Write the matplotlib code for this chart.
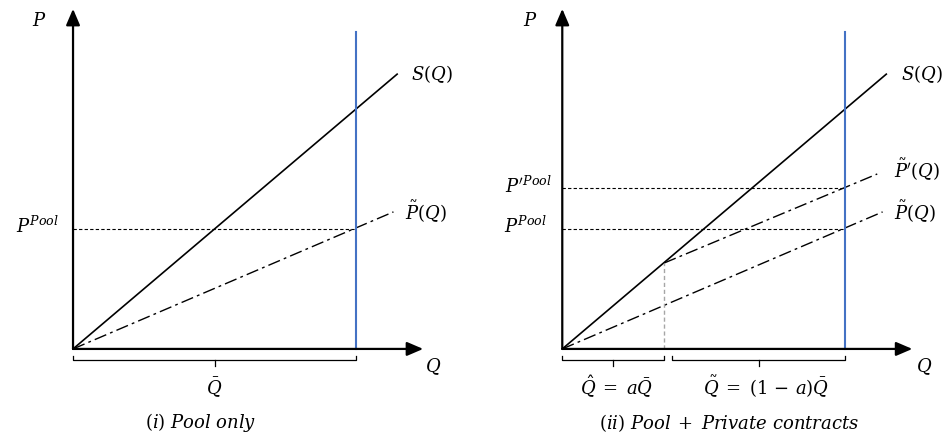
import matplotlib
matplotlib.use("Agg")
import matplotlib.pyplot as plt

plt.rcParams['mathtext.fontset'] = 'dejavuserif'

# quantities (Q-bar = 1, S(Q) = Q)
q_bar = 1.0
q_hat = 0.36
p_pool = 0.5
p_pool2 = 0.67

s_q = [0, 1.145]
s_p = [0, 1.145]
pt_q = [0, 1.132]
pt_p = [0, 0.571]
pt2_q = [0.36, 1.113]
pt2_p = [0.358, 0.729]

blue_top = 1.32
yaxis_top = 1.417
xaxis_end = 1.237

BLUE = '#4472C4'
FS = 13

fig = plt.figure(figsize=(9.46, 4.37), dpi=100)
axL = fig.add_axes([0, 0, 0.5, 1])
axR = fig.add_axes([0.5, 0, 0.5, 1])
axL.set_xlim(-0.258, 1.413)
axR.set_xlim(-0.3155, 1.356)
for ax in (axL, axR):
    ax.set_ylim(-0.367, 1.454)
    ax.axis('off')


def axes_arrows(ax):
    ap = dict(arrowstyle='-|>,head_length=0.7,head_width=0.3', color='black',
              lw=1.6, shrinkA=0, shrinkB=0, mutation_scale=14)
    ax.annotate('', xy=(0, yaxis_top), xytext=(0, 0), arrowprops=ap)
    ax.annotate('', xy=(xaxis_end, 0), xytext=(0, 0), arrowprops=ap)


def bracket(ax, x0, x1):
    y = -0.046
    ax.plot([x0, x0, x1, x1], [-0.028, y, y, -0.028], color='black', lw=0.9)
    xm = (x0 + x1) / 2
    ax.plot([xm, xm], [y, -0.07], color='black', lw=0.9)


dd = (0, (9, 3, 2, 3))

# (i) Pool only
axes_arrows(axL)
axL.plot(s_q, s_p, color='black', lw=1.2)
axL.plot(pt_q, pt_p, color='black', lw=1.0, linestyle=dd)
axL.plot([0, q_bar], [p_pool, p_pool], color='black', lw=0.8, linestyle=(0, (3, 2)))
axL.plot([q_bar, q_bar], [0, blue_top], color=BLUE, lw=1.5)
bracket(axL, 0, q_bar)
axL.text(-0.12, 1.367, '$P$', fontsize=FS, ha='center', va='center')
axL.text(1.194, 1.146, '$S(Q)$', fontsize=FS, ha='left', va='center')
axL.text(1.173, 0.571, r'$\tilde{P}(Q)$', fontsize=FS, ha='left', va='center')
axL.text(1.272, -0.075, '$Q$', fontsize=FS, ha='center', va='center')
axL.text(-0.05, 0.51, '$P^{Pool}$', fontsize=FS, ha='right', va='center')
axL.text(0.5, -0.158, r'$\bar{Q}$', fontsize=FS, ha='center', va='center')
axL.text(0.452, -0.308, r'$(i)\ Pool\ only$', fontsize=FS, ha='center', va='center')

# (ii) Pool + Private contracts
axes_arrows(axR)
axR.plot(s_q, s_p, color='black', lw=1.2)
axR.plot(pt_q, pt_p, color='black', lw=1.0, linestyle=dd)
axR.plot(pt2_q, pt2_p, color='black', lw=1.0, linestyle=dd)
axR.plot([0, q_bar], [p_pool, p_pool], color='black', lw=0.8, linestyle=(0, (3, 2)))
axR.plot([0, q_bar], [p_pool2, p_pool2], color='black', lw=0.8, linestyle=(0, (3, 2)))
axR.plot([q_hat, q_hat], [0, pt2_p[0]], color='#A6A6A6', lw=1.0, linestyle=(0, (3, 2)))
axR.plot([q_bar, q_bar], [0, blue_top], color=BLUE, lw=1.5)
bracket(axR, 0, q_hat)
bracket(axR, q_hat + 0.027, q_bar)
axR.text(-0.114, 1.367, '$P$', fontsize=FS, ha='center', va='center')
axR.text(1.198, 1.146, '$S(Q)$', fontsize=FS, ha='left', va='center')
axR.text(1.171, 0.746, r"$\tilde{P}'(Q)$", fontsize=FS, ha='left', va='center')
axR.text(1.171, 0.571, r'$\tilde{P}(Q)$', fontsize=FS, ha='left', va='center')
axR.text(1.277, -0.075, '$Q$', fontsize=FS, ha='center', va='center')
axR.text(-0.036, 0.68, "$P'^{Pool}$", fontsize=FS, ha='right', va='center')
axR.text(-0.054, 0.51, '$P^{Pool}$', fontsize=FS, ha='right', va='center')
axR.text(0.19, -0.158, r'$\hat{Q}\;=\;a\bar{Q}$', fontsize=FS, ha='center', va='center')
axR.text(0.72, -0.158, r'$\tilde{Q}\;=\;(1\,-\,a)\bar{Q}$', fontsize=FS, ha='center', va='center')
axR.text(0.59, -0.308, r'$(ii)\ Pool\;+\;Private\ contracts$', fontsize=FS,
         ha='center', va='center')

fig.savefig('out.png', dpi=100)
